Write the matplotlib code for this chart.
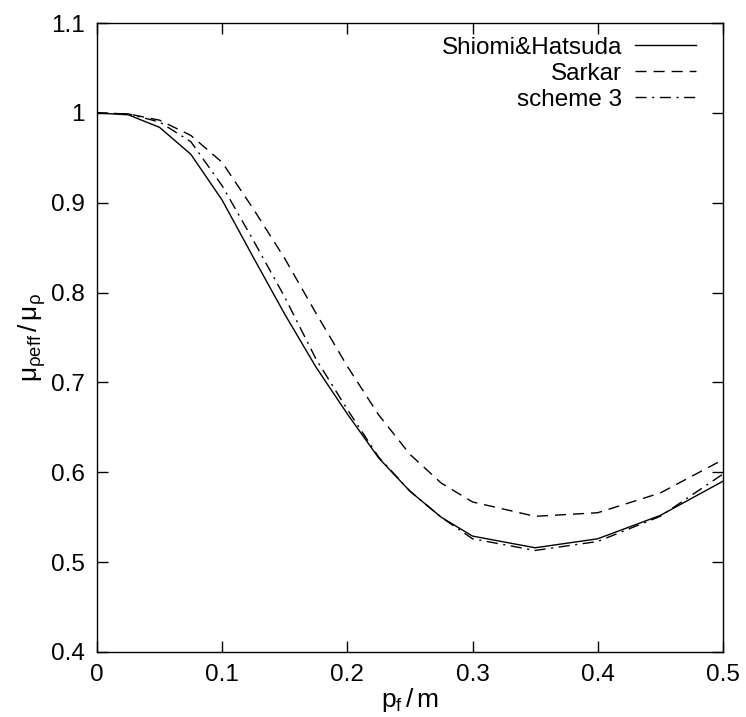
import matplotlib
matplotlib.use("Agg")
import matplotlib.pyplot as plt
import numpy as np

plt.rcParams['font.family'] = ['Liberation Sans', 'DejaVu Sans']
plt.rcParams['mathtext.fontset'] = 'custom'
plt.rcParams['mathtext.rm'] = 'Liberation Sans'
plt.rcParams['mathtext.it'] = 'Liberation Sans'

# p_f / m
pf = [0.0, 0.025, 0.05, 0.075, 0.1, 0.125, 0.15, 0.175, 0.2, 0.225,
      0.25, 0.275, 0.3, 0.35, 0.4, 0.45, 0.5]

# mu_rho_eff / mu_rho for each scheme
shiomi = [1.0, 0.998, 0.984, 0.954, 0.903, 0.839, 0.776, 0.717, 0.665, 0.616,
          0.579, 0.550, 0.529, 0.516, 0.526, 0.552, 0.590]
sarkar = [1.0, 0.999, 0.992, 0.975, 0.945, 0.893, 0.838, 0.777, 0.718, 0.664,
          0.620, 0.588, 0.567, 0.551, 0.555, 0.577, 0.614]
scheme3 = [1.0, 0.999, 0.990, 0.968, 0.919, 0.858, 0.795, 0.726, 0.670, 0.617,
           0.579, 0.550, 0.526, 0.513, 0.523, 0.551, 0.598]

fig = plt.figure(figsize=(7.46, 7.17), dpi=100)
ax = fig.add_axes([0.130, 0.0907, 0.839, 0.877])

ax.plot(pf, shiomi, color='black', lw=1.0, label='Shiomi&Hatsuda')
ax.plot(pf, sarkar, color='black', lw=1.0, dashes=(8, 5), label='Sarkar')
ax.plot(pf, scheme3, color='black', lw=1.0, dashes=(8, 4, 1.5, 4), label='scheme 3')

ax.set_xlim(0, 0.5)
ax.set_ylim(0.4, 1.1)
ax.set_xticks(np.arange(0, 0.51, 0.1))
ax.set_xticklabels(['0', '0.1', '0.2', '0.3', '0.4', '0.5'])
ax.set_yticks(np.arange(0.4, 1.11, 0.1))
ax.set_yticklabels(['0.4', '0.5', '0.6', '0.7', '0.8', '0.9', '1', '1.1'])
ax.tick_params(direction='in', top=True, right=True, length=8, width=1.0,
               labelsize=17.5, pad=9)
for s in ax.spines.values():
    s.set_linewidth(1.0)

ax.set_xlabel(r'$\mathregular{p_f\,/\,m}$', fontsize=19, labelpad=0)
ax.set_ylabel(r'$\mathregular{\mu_{\rho eff}\,/\,\mu_\rho}$', fontsize=19, labelpad=2)

ax.legend(loc='upper right', bbox_to_anchor=(1.0, 1.021), frameon=False,
          markerfirst=False, fontsize=17.5, handlelength=2.5,
          handletextpad=0.55, labelspacing=0.17, borderaxespad=0.7)

fig.savefig('out.png', dpi=100)
